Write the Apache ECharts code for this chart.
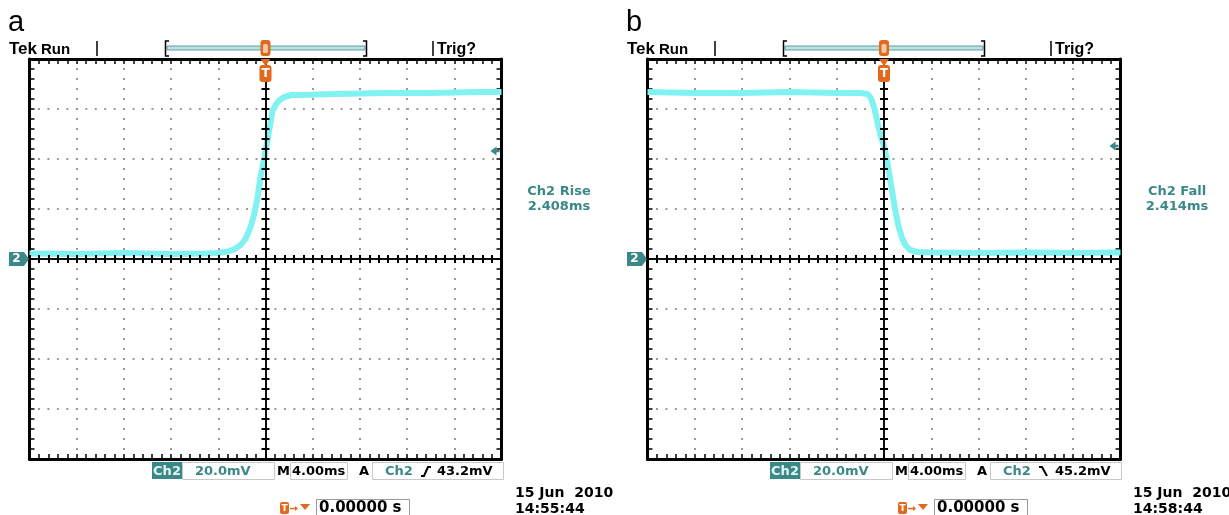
<!DOCTYPE html>
<html>
<head>
<meta charset="utf-8">
<script src="https://cdn.jsdelivr.net/npm/echarts@6/dist/echarts.min.js"></script>
<style>
  html, body { margin: 0; padding: 0; background: #fff; }
  #chart { width: 1229px; height: 515px; }
</style>
</head>
<body>
<div id="chart"></div>
<script>
// waveform: time in ms, level in mV
const riseTime = [-20, -16, -12, -8, -5, -4, -3.2, -2.6, -2.1, -1.7, -1.3, -1.0, -0.7, -0.4, -0.1, 0, 0.3, 0.6, 0.9, 1.2, 1.6, 2.2, 3, 6, 10, 14, 18, 20];
const riseVolt = [2.2, 2.0, 2.4, 2.0, 2.2, 2.4, 3.0, 4.0, 5.6, 8.0, 12.4, 17.2, 24.0, 33.6, 40.4, 43.2, 51.2, 59.2, 62.0, 63.6, 64.8, 65.6, 65.6, 66.0, 66.4, 66.4, 66.8, 66.8];
const fallTime = [-20, -16, -12, -8, -4, -2, -1.4, -1.1, -0.8, -0.5, -0.2, 0, 0.3, 0.6, 0.9, 1.2, 1.5, 1.8, 2.2, 2.8, 4, 8, 12, 16, 20];
const fallVolt = [66.8, 66.4, 66.4, 66.8, 66.4, 66.4, 66.0, 64.4, 60.0, 53.6, 48.0, 45.2, 38.4, 29.6, 20.8, 13.6, 8.8, 5.6, 3.6, 2.8, 2.6, 2.4, 2.6, 2.4, 2.6];

// screen settings
const timeRange = [-20, 20];   // 10 div x 4.00ms
const voltRange = [-80, 80];   // 8 div x 20.0mV
const timeDiv = 4;
const voltDiv = 20;

// readout texts
const panelLabels = ['a', 'b'];
const measureNames = ['Ch2 Rise', 'Ch2 Fall'];
const measureValues = ['2.408ms', '2.414ms'];
const trigLevels = [43.2, 45.2];
const trigLevelTexts = ['43.2mV', '45.2mV'];
const clockTimes = ['14:55:44', '14:58:44'];

const grids = [
  { left: 29.5, top: 59, width: 472, height: 400 },
  { left: 647.5, top: 59, width: 473, height: 400 }
];
const shift = [0, 618];

const TEAL = '#3b8888';
const ORANGE = '#e0691c';
const TRACE = '#80f2f2';
const SANS = '"DejaVu Sans", sans-serif';
const ARIAL = '"Liberation Sans", Arial, sans-serif';

function tickStyle(w) { return { color: '#000', width: w }; }

function makeAxes(dim, gi) {
  const isX = dim === 'x';
  const range = isX ? timeRange : voltRange;
  const step = isX ? timeDiv : voltDiv;
  const sides = isX ? ['bottom', 'top'] : ['left', 'right'];
  const base = {
    type: 'value', gridIndex: gi, min: range[0], max: range[1], interval: step,
    axisLabel: { show: false }, splitLine: { show: false }
  };
  const list = [];
  // frame
  sides.forEach((pos, k) => {
    list.push(Object.assign({}, base, {
      position: pos, z: 1,
      axisLine: { onZero: false, lineStyle: tickStyle(3) },
      axisTick: { inside: true, length: 5, lineStyle: tickStyle(1.5) },
      minorTick: { show: true, splitNumber: 5, length: 5, lineStyle: tickStyle(1.5) },
      splitLine: k === 0 ? {
        show: true,
        lineStyle: isX
          ? { color: '#9a9a9a', width: 2, type: [2, 8], dashOffset: 1 }
          : { color: '#9a9a9a', width: 2, type: [2, 7.46], dashOffset: 1 }
      } : { show: false }
    }));
  });
  // centre crosshair, ticks on both sides
  [true, false].forEach(inside => {
    list.push(Object.assign({}, base, {
      position: sides[0], z: 3,
      axisLine: { onZero: true, onZeroAxisIndex: gi * 4, lineStyle: tickStyle(1.5) },
      axisTick: { inside: inside, length: 4, lineStyle: tickStyle(2) },
      minorTick: { show: true, splitNumber: 5, length: 4, lineStyle: tickStyle(2) }
    }));
  });
  return list;
}

function zip(a, b) { return a.map((v, i) => [v, b[i]]); }

const chart = echarts.init(document.getElementById('chart'));
chart.setOption({
  animation: false,
  grid: grids.map(g => Object.assign({ containLabel: false, outerBoundsMode: 'none' }, g)),
  xAxis: makeAxes('x', 0).concat(makeAxes('x', 1)),
  yAxis: makeAxes('y', 0).concat(makeAxes('y', 1)),
  series: [
    { type: 'line', xAxisIndex: 0, yAxisIndex: 0, data: zip(riseTime, riseVolt), showSymbol: false, z: 2,
      lineStyle: { color: TRACE, width: 6 } },
    { type: 'line', xAxisIndex: 4, yAxisIndex: 4, data: zip(fallTime, fallVolt), showSymbol: false, z: 2,
      lineStyle: { color: TRACE, width: 6 } }
  ]
});

// helpers for the scope decorations
function txt(x, base, s, size, fill, weight, family, align) {
  return {
    type: 'text', x: x, y: base - size * 0.36, z: 10,
    style: { text: s, fill: fill, align: align || 'left', verticalAlign: 'middle',
             font: (weight || 'normal') + ' ' + size + 'px ' + (family || SANS) }
  };
}
function line(pts, color, w) {
  return { type: 'polyline', z: 10, shape: { points: pts }, style: { stroke: color, lineWidth: w, fill: null } };
}
function box(x, y, w, h, fill, stroke, r) {
  return { type: 'rect', z: 9, shape: { x: x, y: y, width: w, height: h, r: r || 0 },
           style: { fill: fill, stroke: stroke || null, lineWidth: 1 } };
}
function poly(pts, fill) {
  return { type: 'polygon', z: 10, shape: { points: pts }, style: { fill: fill } };
}

const els = [];
grids.forEach((g, gi) => {
  const dx = shift[gi];
  const c = chart.convertToPixel({ gridIndex: gi }, [0, 0]);
  const t = chart.convertToPixel({ gridIndex: gi }, [timeRange[1], trigLevels[gi]]);
  const cx = c[0], cy = c[1];

  els.push(txt(8 + dx, 33, panelLabels[gi], 29, '#000', 'normal', ARIAL));

  // status bar
  els.push(txt(9 + dx, 55, 'Tek', 17, '#000', 'bold', ARIAL));
  els.push(txt(41 + dx, 55, 'Run', 15, '#000', 'bold', ARIAL));
  els.push(line([[97 + dx, 41], [97 + dx, 56]], '#000', 1.5));
  els.push(box(167 + dx, 46, 198, 4, '#bde0e0', '#5c9f9f'));
  els.push(line([[169 + dx, 41], [165.5 + dx, 41], [165.5 + dx, 56], [169 + dx, 56]], '#000', 1.5));
  els.push(line([[363 + dx, 41], [366.5 + dx, 41], [366.5 + dx, 56], [363 + dx, 56]], '#000', 1.5));
  els.push(line([[433 + dx, 41], [433 + dx, 56]], '#000', 1.5));
  els.push(txt(437 + dx, 55, 'Trig?', 16, '#000', 'bold', ARIAL));

  // trigger position markers
  els.push(box(cx - 5, 40, 10, 16, ORANGE, null, 3));
  els.push(box(cx - 2.5, 44, 5, 9, '#f6c7a2', null, 1.5));
  els.push(poly([[cx - 5, 59], [cx + 5, 59], [cx, 66]], ORANGE));
  els.push(box(cx - 6, 65, 12, 17, ORANGE, null, 3));
  els.push(txt(cx, 78, 'T', 12, '#fff', 'bold', SANS, 'center'));

  // channel ground marker
  els.push(poly([[9 + dx, cy - 7], [24 + dx, cy - 7], [29 + dx, cy], [24 + dx, cy + 7], [9 + dx, cy + 7]], TEAL));
  els.push(txt(16.5 + dx, cy + 4.5, '2', 12, '#fff', 'bold', SANS, 'center'));

  // trigger level marker
  const ax = t[0] - 11, ay = t[1];
  els.push(poly([[ax, ay], [ax + 6, ay - 4.5], [ax + 6, ay + 4.5]], TEAL));
  els.push(line([[ax + 5, ay], [ax + 9, ay]], TEAL, 2.5));

  // measurement
  els.push(txt(559 + dx, 196, measureNames[gi], 13, TEAL, 'bold', SANS, 'center'));
  els.push(txt(559 + dx, 211, measureValues[gi], 13, TEAL, 'bold', SANS, 'center'));

  // readouts
  els.push(box(152 + dx, 462, 30, 17, TEAL));
  els.push(txt(167 + dx, 476, 'Ch2', 13, '#e6f4f4', 'bold', SANS, 'center'));
  els.push(box(182.5 + dx, 462.5, 92, 17, '#fff', '#c8c8c8'));
  els.push(txt(195 + dx, 476, '20.0mV', 13, TEAL, 'bold'));
  els.push(txt(277 + dx, 476, 'M', 13, '#000', 'bold'));
  els.push(box(290.5 + dx, 462.5, 57, 17, '#fff', '#c8c8c8'));
  els.push(txt(292 + dx, 476, '4.00ms', 13, '#000', 'bold'));
  els.push(txt(359 + dx, 476, 'A', 13, '#000', 'bold'));
  els.push(box(372.5 + dx, 462.5, 131, 17, '#fff', '#c8c8c8'));
  els.push(txt(385 + dx, 476, 'Ch2', 13, TEAL, 'bold'));
  if (gi === 0) {
    els.push(line([[421 + dx, 476], [424 + dx, 476], [428 + dx, 467], [431 + dx, 467]], '#000', 2));
  } else {
    els.push(line([[421 + dx, 467], [424 + dx, 467], [429 + dx, 476]], '#000', 2));
  }
  els.push(txt(437 + dx, 476, trigLevelTexts[gi], 13, '#000', 'bold'));

  // horizontal position readout
  els.push(box(280 + dx, 502, 9, 12, ORANGE, null, 2));
  els.push(txt(284.5 + dx, 512, 'T', 9, '#fff', 'bold', SANS, 'center'));
  els.push(line([[290 + dx, 508.5], [297 + dx, 508.5]], ORANGE, 1.5));
  els.push(poly([[295 + dx, 506], [298 + dx, 508.5], [295 + dx, 511]], ORANGE));
  els.push(poly([[300 + dx, 504], [310 + dx, 504], [305 + dx, 510]], ORANGE));
  els.push(box(316.5 + dx, 499.5, 93, 17, '#fff', '#9a9a9a'));
  els.push(txt(319 + dx, 514, '0.00000 s', 15, '#000', 'bold'));

  // clock
  els.push(txt(515 + dx, 498, '15 Jun  2010', 14, '#000', 'bold'));
  els.push(txt(515 + dx, 514, clockTimes[gi], 14, '#000', 'bold'));
});

chart.setOption({ graphic: { elements: els } });
</script>
</body>
</html>
